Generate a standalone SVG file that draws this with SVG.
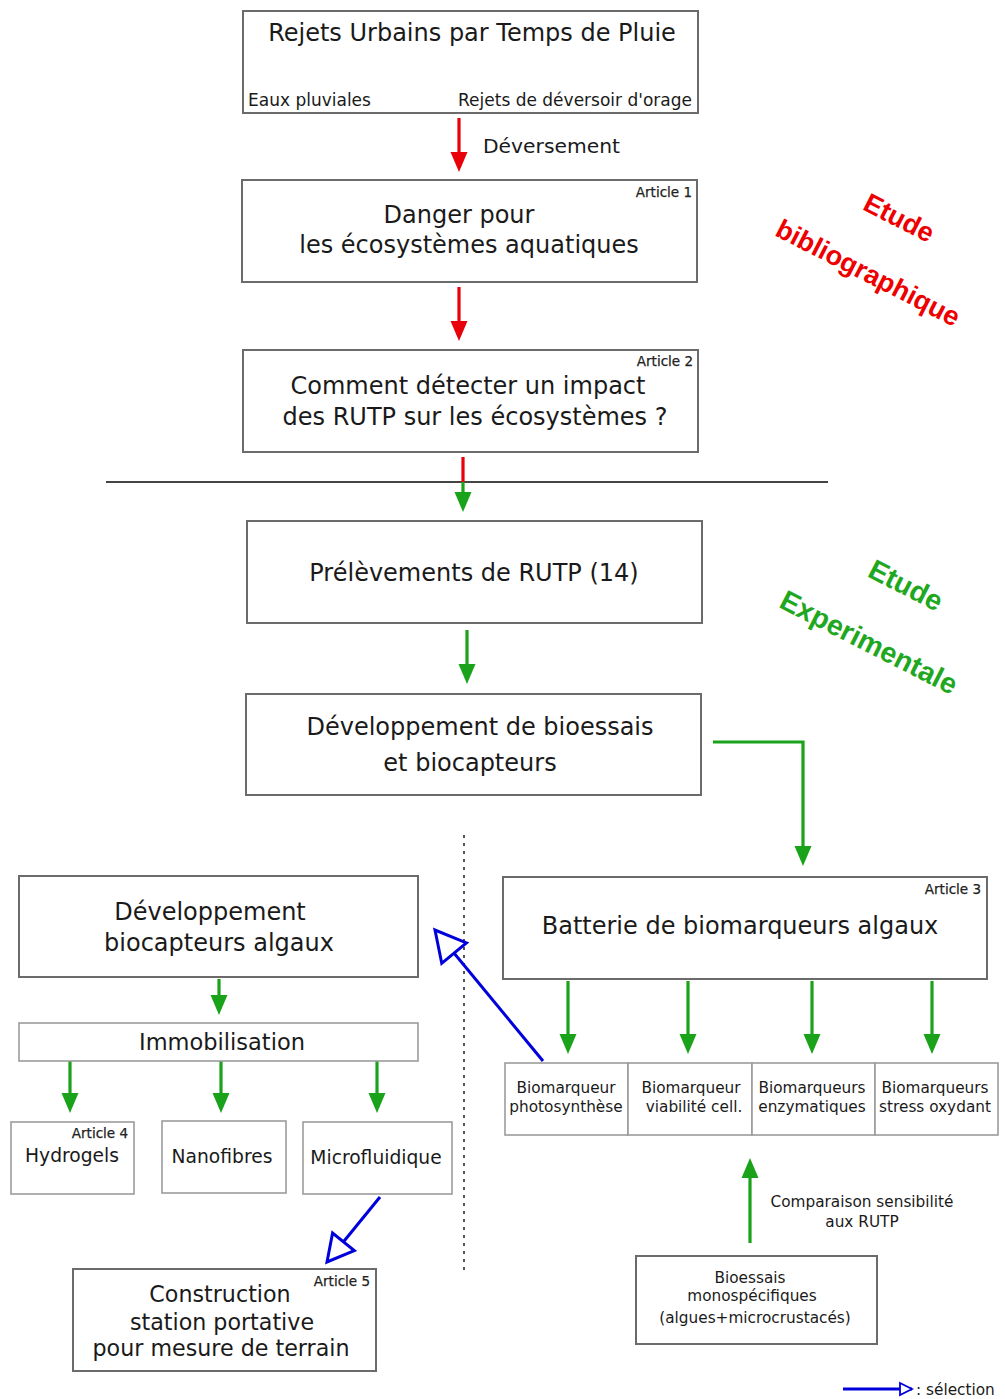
<svg xmlns="http://www.w3.org/2000/svg" width="1005" height="1399" viewBox="0 0 1005 1399">
<defs>
<style>
.box{fill:#fff;stroke:#6b6b6b;stroke-width:2}
.lbox{fill:#fff;stroke:#9c9c9c;stroke-width:1.6}
.t{font-family:"DejaVu Sans",Verdana,sans-serif;fill:#1a1a1a}
.c{text-anchor:middle}
.e{text-anchor:end}
.f24{font-size:24px}
.f22{font-size:22.2px}
.f18{font-size:18.7px}
.f16{font-size:17px}
.f15{font-size:15.3px}
.art{font-size:13.5px;text-anchor:end;fill:#222;stroke:#222;stroke-width:0.25}
.red{stroke:#e8000b;stroke-width:3.2;fill:none}
.grn{stroke:#1aa31a;stroke-width:3.2;fill:none}
.blu{stroke:#0000dc;stroke-width:3;fill:none}
.sep{stroke:#444;stroke-width:2}
.dot{stroke:#555;stroke-width:2;stroke-dasharray:3 5}
.rot{font-family:"Liberation Sans",Arial,sans-serif;font-weight:bold;text-anchor:middle}
</style>
<marker id="ar" markerUnits="userSpaceOnUse" markerWidth="24" markerHeight="20" viewBox="0 -10 24 20" refX="2" refY="0" orient="auto"><path d="M0,-8.5 L20,0 L0,8.5 Z" fill="#e8000b"/></marker>
<marker id="ag" markerUnits="userSpaceOnUse" markerWidth="24" markerHeight="20" viewBox="0 -10 24 20" refX="2" refY="0" orient="auto"><path d="M0,-8.5 L20,0 L0,8.5 Z" fill="#1aa31a"/></marker>
<marker id="ab" markerUnits="userSpaceOnUse" markerWidth="40" markerHeight="40" viewBox="-34 -20 40 40" refX="0" refY="0" orient="auto"><path d="M-30,-16 L0,0 L-30,16 Z" fill="#fff" stroke="#0000dc" stroke-width="3"/></marker>
<marker id="ab2" markerUnits="userSpaceOnUse" markerWidth="36" markerHeight="36" viewBox="-30 -18 36 36" refX="0" refY="0" orient="auto"><path d="M-26,-14 L0,0 L-26,14 Z" fill="#fff" stroke="#0000dc" stroke-width="3"/></marker>
<marker id="abs" markerUnits="userSpaceOnUse" markerWidth="20" markerHeight="20" viewBox="-16 -10 20 20" refX="0" refY="0" orient="auto"><path d="M-12,-6 L0,0 L-12,6 Z" fill="#fff" stroke="#0000dc" stroke-width="1.8"/></marker>
</defs>
<rect width="1005" height="1399" fill="#fff"/>

<g id="connectors">
<line class="red" x1="459" y1="118" x2="459" y2="154" marker-end="url(#ar)"/>
<line class="red" x1="459" y1="287" x2="459" y2="323" marker-end="url(#ar)"/>
<line class="sep" x1="106" y1="482" x2="828" y2="482"/>
<line class="red" x1="463" y1="457" x2="463" y2="482"/>
<line class="grn" x1="463" y1="482" x2="463" y2="494" marker-end="url(#ag)"/>
<line class="grn" x1="467" y1="630" x2="467" y2="666" marker-end="url(#ag)"/>
<polyline class="grn" points="713,742 803,742 803,848" marker-end="url(#ag)"/>
<line class="dot" x1="464" y1="835" x2="464" y2="1275"/>
<line class="grn" x1="219" y1="979" x2="219" y2="997" marker-end="url(#ag)"/>
<line class="grn" x1="70" y1="1061" x2="70" y2="1095" marker-end="url(#ag)"/>
<line class="grn" x1="221" y1="1061" x2="221" y2="1095" marker-end="url(#ag)"/>
<line class="grn" x1="377" y1="1061" x2="377" y2="1095" marker-end="url(#ag)"/>
<line class="grn" x1="568" y1="981" x2="568" y2="1036" marker-end="url(#ag)"/>
<line class="grn" x1="688" y1="981" x2="688" y2="1036" marker-end="url(#ag)"/>
<line class="grn" x1="812" y1="981" x2="812" y2="1036" marker-end="url(#ag)"/>
<line class="grn" x1="932" y1="981" x2="932" y2="1036" marker-end="url(#ag)"/>
<line class="grn" x1="750" y1="1243" x2="750" y2="1176" marker-end="url(#ag)"/>
<line class="blu" x1="543" y1="1061" x2="435" y2="930" marker-end="url(#ab)"/>
<line class="blu" x1="380" y1="1197" x2="327" y2="1262" marker-end="url(#ab2)"/>
</g>

<g id="n-rutp">
<rect class="box" x="243" y="11" width="455" height="102"/>
<text class="t c f24" x="472" y="41">Rejets Urbains par Temps de Pluie</text>
<text class="t f16" x="248" y="106">Eaux pluviales</text>
<text class="t e f16" x="692" y="106">Rejets de déversoir d'orage</text>
</g>
<text id="lbl-deversement" class="t" font-size="20.3" x="483" y="153">Déversement</text>

<g id="n-danger">
<rect class="box" x="242" y="180" width="455" height="102"/>
<text class="t art" x="692" y="197">Article 1</text>
<text class="t c f24" x="459" y="223">Danger pour</text>
<text class="t c f24" x="469" y="253">les écosystèmes aquatiques</text>
</g>

<g id="n-detect">
<rect class="box" x="243" y="350" width="455" height="102"/>
<text class="t art" x="693" y="366">Article 2</text>
<text class="t c f24" x="468" y="394">Comment détecter un impact</text>
<text class="t c f24" x="475" y="425">des RUTP sur les écosystèmes ?</text>
</g>

<g id="n-prelev">
<rect class="box" x="247" y="521" width="455" height="102"/>
<text class="t c f24" x="474" y="581">Prélèvements de RUTP (14)</text>
</g>

<g id="n-devbio">
<rect class="box" x="246" y="694" width="455" height="101"/>
<text class="t c f24" x="480" y="735">Développement de bioessais</text>
<text class="t c f24" x="470" y="771">et biocapteurs</text>
</g>

<g id="n-devcapt">
<rect class="box" x="19" y="876" width="399" height="101"/>
<text class="t c f24" x="210" y="920">Développement</text>
<text class="t c f24" x="219" y="951">biocapteurs algaux</text>
</g>

<g id="n-batterie">
<rect class="box" x="503" y="877" width="484" height="102"/>
<text class="t art" x="981" y="894">Article 3</text>
<text class="t c f24" x="740" y="934">Batterie de biomarqueurs algaux</text>
</g>

<g id="n-immob">
<rect class="lbox" x="19" y="1023" width="399" height="38"/>
<text class="t c" font-size="22.5" x="222" y="1050">Immobilisation</text>
</g>

<g id="n-hydro">
<rect class="lbox" x="11" y="1122" width="123" height="72"/>
<text class="t art" x="128" y="1138">Article 4</text>
<text class="t c f18" x="72" y="1162">Hydrogels</text>
</g>
<g id="n-nano">
<rect class="lbox" x="162" y="1121" width="124" height="72"/>
<text class="t c f18" x="222" y="1163">Nanofibres</text>
</g>
<g id="n-micro">
<rect class="lbox" x="303" y="1122" width="149" height="72"/>
<text class="t c f18" x="376" y="1164">Microfluidique</text>
</g>

<g id="n-station">
<rect class="box" x="73" y="1269" width="303" height="102"/>
<text class="t art" x="370" y="1286">Article 5</text>
<text class="t c f22" x="220" y="1302">Construction</text>
<text class="t c f22" x="222" y="1330">station portative</text>
<text class="t c f22" x="221" y="1356">pour mesure de terrain</text>
</g>

<g id="n-bm1">
<rect class="lbox" x="505" y="1063" width="123" height="72"/>
<text class="t c f15" x="566" y="1093">Biomarqueur</text>
<text class="t c f15" x="566" y="1112">photosynthèse</text>
</g>
<g id="n-bm2">
<rect class="lbox" x="628" y="1063" width="124" height="72"/>
<text class="t c f15" x="691" y="1093">Biomarqueur</text>
<text class="t c f15" x="694" y="1112">viabilité cell.</text>
</g>
<g id="n-bm3">
<rect class="lbox" x="752" y="1063" width="123" height="72"/>
<text class="t c f15" x="812" y="1093">Biomarqueurs</text>
<text class="t c f15" x="812" y="1112">enzymatiques</text>
</g>
<g id="n-bm4">
<rect class="lbox" x="875" y="1063" width="123" height="72"/>
<text class="t c f15" x="935" y="1093">Biomarqueurs</text>
<text class="t c f15" x="935" y="1112">stress oxydant</text>
</g>

<g id="lbl-comparaison">
<text class="t c f15" x="862" y="1207">Comparaison sensibilité</text>
<text class="t c f15" x="862" y="1227">aux RUTP</text>
</g>

<g id="n-bioessais">
<rect class="box" x="636" y="1256" width="241" height="88"/>
<text class="t c f15" x="750" y="1283">Bioessais</text>
<text class="t c f15" x="752" y="1301">monospécifiques</text>
<text class="t c f15" x="755" y="1323">(algues+microcrustacés)</text>
</g>

<g id="phase-labels">
<text class="rot" font-size="27" fill="#ee0000" x="899" y="227" transform="rotate(27 899 218)">Etude</text>
<text class="rot" font-size="27" fill="#ee0000" x="868" y="282" transform="rotate(27 868 273)">bibliographique</text>
<text class="rot" font-size="28.5" fill="#1fa81f" x="906" y="595" transform="rotate(27 906 585)">Etude</text>
<text class="rot" font-size="28.5" fill="#1fa81f" x="869" y="652" transform="rotate(27 869 642)">Experimentale</text>
</g>

<g id="legend">
<line class="blu" stroke-width="1.8" x1="843" y1="1389" x2="912" y2="1389" marker-end="url(#abs)"/>
<text class="t f15" x="916" y="1395">: sélection</text>
</g>
</svg>
